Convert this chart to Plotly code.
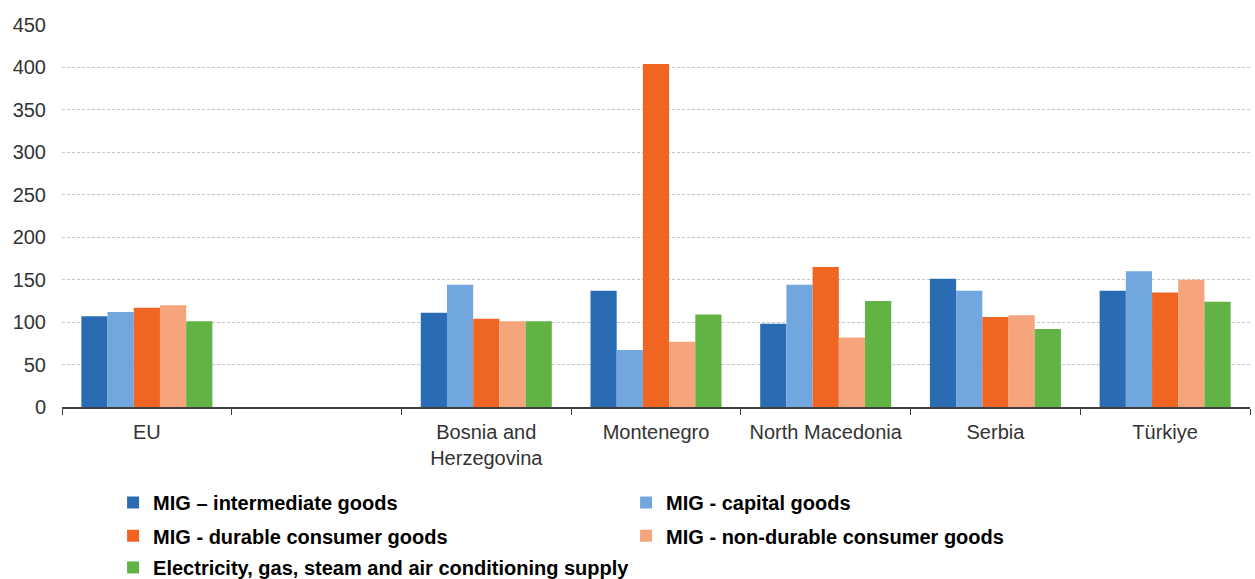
import plotly.graph_objects as go

categories = ["EU", " ", "Bosnia and<br>Herzegovina", "Montenegro", "North Macedonia", "Serbia", "Türkiye"]
series_names = [
    "MIG – intermediate goods",
    "MIG - capital goods",
    "MIG - durable consumer goods",
    "MIG - non-durable consumer goods",
    "Electricity, gas, steam and air conditioning supply",
]
intermediate = [107, None, 111, 137, 98, 151, 137]
capital = [112, None, 144, 67, 144, 137, 160]
durable = [117, None, 104, 404, 165, 106, 135]
non_durable = [120, None, 101, 77, 82, 108, 150]
electricity = [101, None, 101, 109, 125, 92, 124]
y_ticks = [0, 50, 100, 150, 200, 250, 300, 350, 400, 450]

values = [intermediate, capital, durable, non_durable, electricity]
colors = ["#2A6CB3", "#72A6DE", "#F06522", "#F5A47C", "#61B344"]
legend_ids = ["legend", "legend", "legend2", "legend2", "legend3"]

FONT = "Liberation Sans, Arial, sans-serif"

fig = go.Figure()
for name, vals, col, lg in zip(series_names, values, colors, legend_ids):
    fig.add_trace(go.Bar(
        x=categories, y=vals, name=name, legend=lg,
        marker=dict(color=col, line=dict(width=0)),
    ))

legend_common = dict(
    orientation="h", xanchor="left", yanchor="middle", x=0.043,
    entrywidth=468, entrywidthmode="pixels",
    font=dict(family=FONT, size=20, color="#000000", weight="bold"),
    bgcolor="rgba(0,0,0,0)", itemclick=False, itemdoubleclick=False,
    traceorder="normal", itemwidth=30,
)

fig.update_layout(
    width=1255, height=579,
    margin=dict(l=62, r=5, t=25, b=171.5, autoexpand=False),
    paper_bgcolor="white", plot_bgcolor="white",
    barmode="group", bargap=0.228, bargroupgap=0,
    font=dict(family=FONT, size=20, color="#333333"),
    legend=dict(legend_common, y=-0.25),
    legend2=dict(legend_common, y=-0.337),
    legend3=dict(legend_common, y=-0.42, entrywidth=700),
    xaxis=dict(
        type="category", categoryorder="array", categoryarray=categories,
        showline=True, linecolor="#404040", linewidth=1.5,
        ticks="outside", tickson="boundaries", ticklen=6, tickcolor="#404040",
        tickfont=dict(family=FONT, size=20, color="#333333"),
        ticklabelstandoff=6,
        showgrid=False,
    ),
    yaxis=dict(
        range=[0, 450], tickvals=y_ticks, ticks="",
        showgrid=True, gridcolor="#C4C4C4", griddash="3px,2px", gridwidth=1,
        zeroline=False, showline=False,
        tickfont=dict(family=FONT, size=20, color="#333333"),
        ticklabelstandoff=15,
    ),
)

fig.write_html("out.html")
